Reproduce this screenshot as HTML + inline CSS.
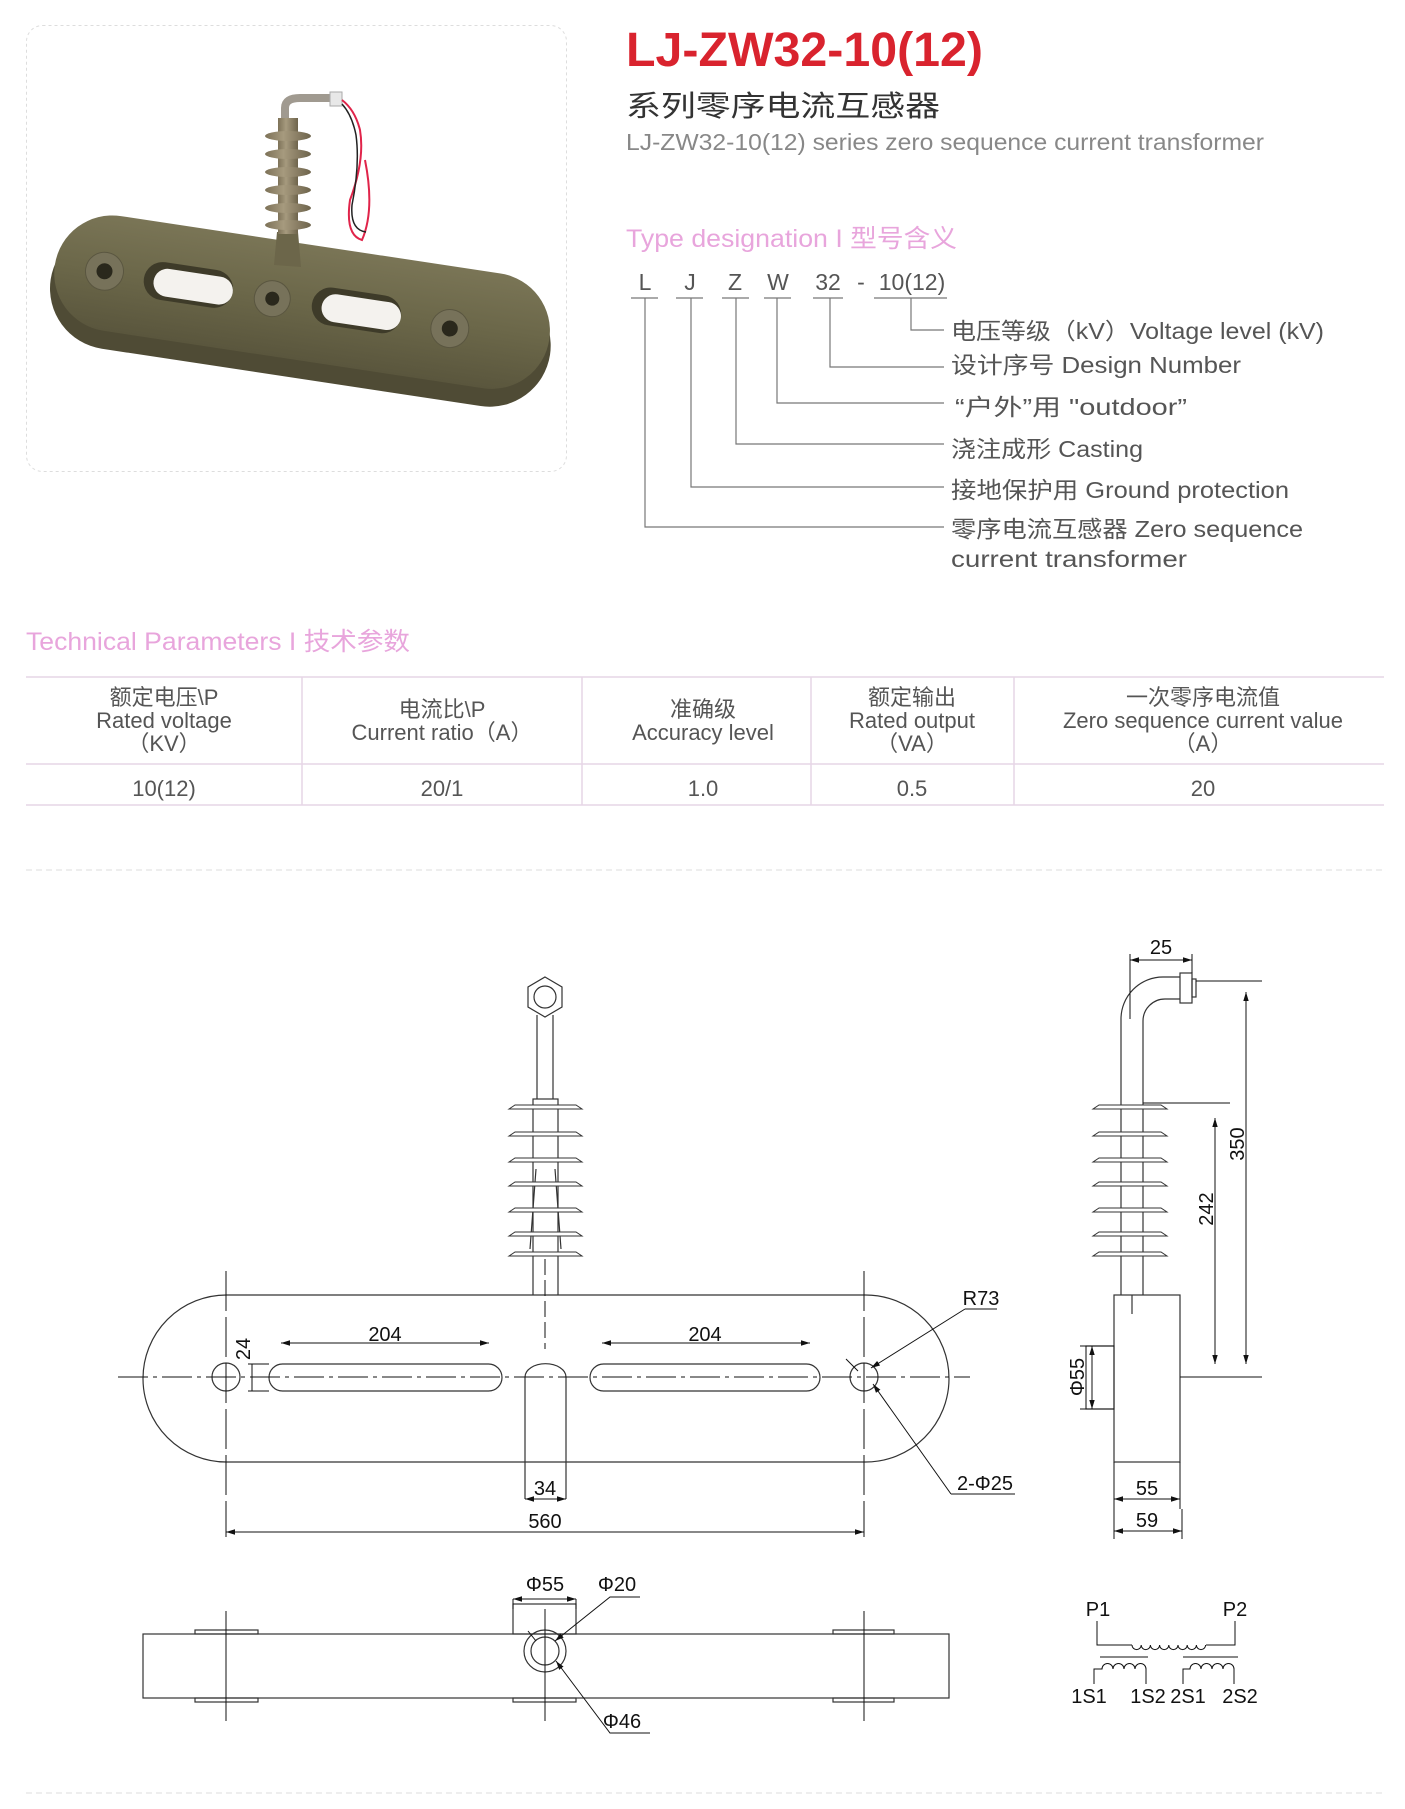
<!DOCTYPE html>
<html><head><meta charset="utf-8"><style>
html,body{margin:0;padding:0;background:#fff;}
svg{display:block;}
text{font-family:"Liberation Sans","Noto Sans CJK SC",sans-serif;}
.d{font-family:"Liberation Sans Narrow","Liberation Sans",sans-serif;fill:#111;font-size:20px;}
</style></head><body>
<svg width="1405" height="1809" viewBox="0 0 1405 1809" xmlns="http://www.w3.org/2000/svg">
<defs>
<linearGradient id="bg1" x1="0" y1="0" x2="0" y2="1"><stop offset="0" stop-color="#7a7556"/><stop offset="0.5" stop-color="#6b6749"/><stop offset="1" stop-color="#5a563d"/></linearGradient>
<linearGradient id="ins" x1="0" y1="0" x2="1" y2="0"><stop offset="0" stop-color="#7d7258"/><stop offset="0.4" stop-color="#a69a7e"/><stop offset="1" stop-color="#6e644c"/></linearGradient>
<marker id="a" viewBox="0 0 10 10" refX="10" refY="5" markerWidth="9" markerHeight="9" orient="auto-start-reverse" markerUnits="userSpaceOnUse"><path d="M0 2L10 5L0 8Z" fill="#111"/></marker>
</defs>

<!-- photo frame -->
<rect x="26.5" y="25.5" width="540" height="446" rx="16" fill="none" stroke="#ddd" stroke-dasharray="3 3"/>
<!-- photo -->
<g>
<g transform="translate(0 16) rotate(8.6 300 300)">
<rect x="48" y="240" width="505" height="122" rx="61" fill="#4f4b35"/>
<rect x="50" y="228" width="500" height="116" rx="58" fill="url(#bg1)"/>
<circle cx="100" cy="285" r="19" fill="#77725a" stroke="#5a5640"/><circle cx="100" cy="285" r="8" fill="#2a281c"/>
<rect x="140" y="267" width="90" height="38" rx="19" fill="#3e3b29"/><rect x="150" y="273" width="80" height="28" rx="14" fill="#f4f2ee"/>
<circle cx="270" cy="287" r="18" fill="#77725a" stroke="#5a5640"/><circle cx="270" cy="287" r="7" fill="#2a281c"/>
<rect x="310" y="267" width="90" height="38" rx="19" fill="#3e3b29"/><rect x="320" y="273" width="80" height="28" rx="14" fill="#f4f2ee"/>
<circle cx="450" cy="290" r="19" fill="#77725a" stroke="#5a5640"/><circle cx="450" cy="290" r="8" fill="#2a281c"/>
</g>
<path d="M274 265 L277 232 L298 232 L301 267 Z" fill="#6c664a"/>
<rect x="278" y="118" width="20" height="116" fill="url(#ins)"/>
<g fill="url(#ins)">
<ellipse cx="288" cy="136" rx="23" ry="5"/><ellipse cx="288" cy="154" rx="23" ry="5"/><ellipse cx="288" cy="172" rx="23" ry="5"/><ellipse cx="288" cy="190" rx="23" ry="5"/><ellipse cx="288" cy="208" rx="23" ry="5"/><ellipse cx="288" cy="225" rx="23" ry="5"/>
</g>
<path d="M285 118 V108 Q285 98 300 98 H330" fill="none" stroke="#a09a90" stroke-width="8"/>
<rect x="330" y="92" width="12" height="14" fill="#e8e8e8" stroke="#aaa"/>
<path d="M342 100 Q355 110 360 130 Q365 160 350 200 Q345 235 362 240 Q375 210 365 160" fill="none" stroke="#e0244a" stroke-width="2"/>
<path d="M342 104 Q352 115 356 135 Q360 165 352 205 Q350 230 366 232" fill="none" stroke="#222" stroke-width="1.5"/>
</g>

<!-- title -->
<text x="626" y="66" font-size="48" font-weight="bold" fill="#d9232e" textLength="357" lengthAdjust="spacingAndGlyphs">LJ-ZW32-10(12)</text>
<text x="626" y="116" font-size="29" fill="#333" textLength="314" lengthAdjust="spacingAndGlyphs">系列零序电流互感器</text>
<text x="626" y="150" font-size="23" fill="#888" textLength="638" lengthAdjust="spacingAndGlyphs">LJ-ZW32-10(12) series zero sequence current transformer</text>
<text x="626" y="247" font-size="25" fill="#e8a5dc" textLength="331" lengthAdjust="spacingAndGlyphs">Type designation I 型号含义</text>

<!-- designation -->
<g font-size="23" fill="#555">
<text x="645" y="290" text-anchor="middle">L</text>
<text x="690" y="290" text-anchor="middle">J</text>
<text x="735" y="290" text-anchor="middle">Z</text>
<text x="778" y="290" text-anchor="middle">W</text>
<text x="828" y="290" text-anchor="middle">32</text>
<text x="861" y="290" text-anchor="middle">-</text>
<text x="912" y="290" text-anchor="middle">10(12)</text>
</g>
<g stroke="#777" stroke-width="1.2" fill="none">
<path d="M631 298H658M676 298H703M722 298H749M764 298H791M813 298H843M874 298H947"/>
<path d="M911 298V330H944M830 298V367H944M777 298V403H944M736 298V444H944M691 298V487H944M645 298V527H944"/>
</g>
<g font-size="23" fill="#555">
<text x="951" y="339" textLength="373" lengthAdjust="spacingAndGlyphs">电压等级（kV）Voltage level (kV)</text>
<text x="951" y="373" textLength="290" lengthAdjust="spacingAndGlyphs">设计序号 Design Number</text>
<text x="955" y="415" textLength="232" lengthAdjust="spacingAndGlyphs">“户外”用 "outdoor”</text>
<text x="951" y="457" textLength="192" lengthAdjust="spacingAndGlyphs">浇注成形 Casting</text>
<text x="951" y="498" textLength="338" lengthAdjust="spacingAndGlyphs">接地保护用 Ground protection</text>
<text x="951" y="537" textLength="352" lengthAdjust="spacingAndGlyphs">零序电流互感器 Zero sequence</text>
<text x="951" y="567" textLength="236" lengthAdjust="spacingAndGlyphs">current transformer</text>
</g>

<!-- tech params -->
<g transform="translate(0 5)">
<text x="26" y="645" font-size="25" fill="#e8a5dc" textLength="384" lengthAdjust="spacingAndGlyphs">Technical Parameters I 技术参数</text>
<g stroke="#e6d6e6" stroke-width="1.5">
<path d="M26 672H1384M26 759H1384M26 800H1384"/>
<path d="M302 672V800M582 672V800M811 672V800M1014 672V800"/>
</g>
<g font-size="22" fill="#555" text-anchor="middle">
<text x="164" y="700">额定电压\P</text><text x="164" y="723">Rated voltage</text><text x="164" y="746">（KV）</text>
<text x="442" y="712">电流比\P</text><text x="442" y="735">Current ratio（A）</text>
<text x="703" y="712">准确级</text><text x="703" y="735">Accuracy level</text>
<text x="912" y="700">额定输出</text><text x="912" y="723">Rated output</text><text x="912" y="746">（VA）</text>
<text x="1203" y="700">一次零序电流值</text><text x="1203" y="723">Zero sequence current value</text><text x="1203" y="746">（A）</text>
<text x="164" y="791">10(12)</text><text x="442" y="791">20/1</text><text x="703" y="791">1.0</text><text x="912" y="791">0.5</text><text x="1203" y="791">20</text>
</g>
</g>
<path d="M26 870H1384" stroke="#ddd" stroke-dasharray="6 4"/>
<path d="M26 1793H1384" stroke="#ddd" stroke-dasharray="6 4"/>

<g transform="translate(0 9)">
<!-- main view -->
<g fill="none" stroke="#333" stroke-width="1.2">
<rect x="143" y="1286" width="806" height="167" rx="83.5"/>
<circle cx="226" cy="1368" r="14"/><circle cx="864" cy="1368" r="14"/>
<rect x="269" y="1355" width="233" height="27" rx="13.5"/>
<rect x="590" y="1355" width="230" height="27" rx="13.5"/>
<path d="M525 1490V1368A20 13 0 0 1 566 1368V1490"/>
<path d="M537 1006V1090M553 1006V1090"/>
<rect x="533" y="1090" width="25" height="8"/>
<path d="M533 1098V1286M558 1098V1286"/>
<path d="M536 1160L530 1240M555 1160L561 1240"/>
<polygon points="545,968 562,978 562,998 545,1008 528,998 528,978"/>
<circle cx="545" cy="988" r="11"/>
</g>
<g fill="#fff" stroke="#333" stroke-width="1">
<path d="M509 1100H582L576 1096H515Z"/><path d="M509 1127H582L576 1123H515Z"/><path d="M509 1153H582L576 1149H515Z"/><path d="M509 1177H582L576 1173H515Z"/><path d="M509 1203H582L576 1199H515Z"/><path d="M509 1227H582L576 1223H515Z"/><path d="M509 1247H582L576 1243H515Z"/>
</g>
<g stroke="#111" stroke-width="1" fill="none">
<path d="M118 1368H970" stroke-dasharray="30 5 4 5"/>
<path d="M226 1262V1528M864 1262V1528" stroke-dasharray="40 6"/>
<path d="M545 1250V1340" stroke-dasharray="16 5"/>
<path d="M281 1334H489" marker-start="url(#a)" marker-end="url(#a)"/>
<path d="M602 1334H810" marker-start="url(#a)" marker-end="url(#a)"/>
<path d="M252 1355V1382"/><path d="M248 1355H269M248 1382H269"/>
<path d="M525 1490H566" marker-start="url(#a)" marker-end="url(#a)"/>
<path d="M226 1523H864" marker-start="url(#a)" marker-end="url(#a)"/>
<path d="M965 1300H997M965 1300L871 1359" marker-end="url(#a)"/>
<path d="M951 1485H1015M951 1485L873 1375" marker-end="url(#a)"/>
<path d="M846 1350L858 1362"/>
</g>
<g class="d" text-anchor="middle">
<text x="385" y="1332">204</text><text x="705" y="1332">204</text>
<text x="545" y="1486">34</text><text x="545" y="1519">560</text>
<text x="981" y="1296">R73</text><text x="985" y="1481">2-Φ25</text>
<text transform="translate(250 1340) rotate(-90)">24</text>
</g>

<!-- side view -->
<g fill="none" stroke="#333" stroke-width="1.2">
<rect x="1114" y="1286" width="66" height="167"/>
<rect x="1086" y="1337" width="28" height="63"/>
<path d="M1121 1286V1010A42 42 0 0 1 1163 968H1180M1143 1286V1012A22 22 0 0 1 1165 990H1180"/>
<rect x="1180" y="964" width="12" height="30"/><rect x="1192" y="970" width="4" height="18"/>
<path d="M1132 1286V1305"/>
</g>
<g fill="#fff" stroke="#333" stroke-width="1">
<path d="M1093 1100H1167L1161 1096H1099Z"/><path d="M1093 1127H1167L1161 1123H1099Z"/><path d="M1093 1153H1167L1161 1149H1099Z"/><path d="M1093 1177H1167L1161 1173H1099Z"/><path d="M1093 1203H1167L1161 1199H1099Z"/><path d="M1093 1227H1167L1161 1223H1099Z"/><path d="M1093 1247H1167L1161 1243H1099Z"/>
</g>
<g stroke="#111" stroke-width="1" fill="none">
<path d="M1196 972H1262M1143 1094H1230M1180 1368H1262"/>
<path d="M1246 983V1355" marker-start="url(#a)" marker-end="url(#a)"/>
<path d="M1215 1109V1355" marker-start="url(#a)" marker-end="url(#a)"/>
<path d="M1130 945V1010M1192 945V964"/>
<path d="M1130 951H1192" marker-start="url(#a)" marker-end="url(#a)"/>
<path d="M1114 1453V1530M1180 1453V1500M1182 1500V1530"/>
<path d="M1114 1490H1180" marker-start="url(#a)" marker-end="url(#a)"/>
<path d="M1114 1522H1182" marker-start="url(#a)" marker-end="url(#a)"/>
<path d="M1080 1337H1114M1080 1400H1114"/>
<path d="M1092 1337V1400" marker-start="url(#a)" marker-end="url(#a)"/>
</g>
<g class="d" text-anchor="middle">
<text x="1161" y="945">25</text><text x="1147" y="1486">55</text><text x="1147" y="1518">59</text>
<text transform="translate(1244 1135) rotate(-90)">350</text>
<text transform="translate(1213 1200) rotate(-90)">242</text>
<text transform="translate(1084 1368) rotate(-90)">Φ55</text>
</g>

<!-- bottom view -->
<g fill="none" stroke="#333" stroke-width="1.2">
<rect x="143" y="1625" width="806" height="64"/>
<rect x="513" y="1595" width="63" height="30"/>
<rect x="195" y="1621" width="63" height="4"/><rect x="833" y="1621" width="61" height="4"/>
<rect x="195" y="1689" width="63" height="4"/><rect x="833" y="1689" width="61" height="4"/><rect x="513" y="1689" width="63" height="4"/>
<circle cx="545" cy="1642" r="21"/><circle cx="545" cy="1642" r="14"/>
</g>
<g stroke="#111" stroke-width="1" fill="none">
<path d="M226 1602V1712M864 1602V1712M545 1600V1712"/>
<path d="M513 1590V1600M576 1590V1600"/>
<path d="M513 1590H576" marker-start="url(#a)" marker-end="url(#a)"/>
<path d="M640 1588H610L555 1632" marker-end="url(#a)"/>
<path d="M528 1622L536 1632"/>
<path d="M650 1724H610L556 1652" marker-end="url(#a)"/>
</g>
<g class="d" text-anchor="middle">
<text x="545" y="1582">Φ55</text><text x="617" y="1582">Φ20</text><text x="622" y="1719">Φ46</text>
</g>

<!-- schematic -->
<g stroke="#111" stroke-width="1" fill="none">
<path d="M1097 1612V1636H1132"/>
<path d="M1132 1636a4.6 4.6 0 0 0 9.2 0a4.6 4.6 0 0 0 9.2 0a4.6 4.6 0 0 0 9.2 0a4.6 4.6 0 0 0 9.2 0a4.6 4.6 0 0 0 9.2 0a4.6 4.6 0 0 0 9.2 0a4.6 4.6 0 0 0 9.2 0a4.6 4.6 0 0 0 9.2 0"/>
<path d="M1206 1636H1235V1612"/>
<path d="M1100 1648H1148M1183 1648H1238"/>
<path d="M1094 1675V1660H1102a5.5 5.5 0 0 1 11 0a5.5 5.5 0 0 1 11 0a5.5 5.5 0 0 1 11 0a5.5 5.5 0 0 1 11 0V1675"/>
<path d="M1183 1675V1660H1190a5.5 5.5 0 0 1 11 0a5.5 5.5 0 0 1 11 0a5.5 5.5 0 0 1 11 0a5.5 5.5 0 0 1 11 0V1675"/>
</g>
<g class="d" text-anchor="middle" font-size="18">
<text x="1098" y="1607">P1</text><text x="1235" y="1607">P2</text>
<text x="1089" y="1694">1S1</text><text x="1148" y="1694">1S2</text><text x="1188" y="1694">2S1</text><text x="1240" y="1694">2S2</text>
</g>
</g>
</svg>
</body></html>
